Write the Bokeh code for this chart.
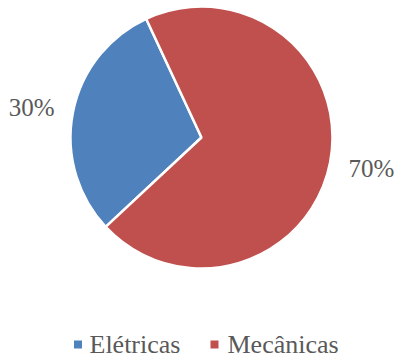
import math
from bokeh.plotting import figure
from bokeh.models import Range1d, ColumnDataSource
from bokeh.embed import file_html
from bokeh.resources import INLINE

categories = ["Elétricas", "Mecânicas"]
shares = [30, 70]
labels = ["30%", "70%"]
colors = ["#4F81BD", "#C0504D"]

W, H = 397, 359
cx, cy, r = 201, H - 137, 131
start_deg = 223  # blue slice ends here, drawn counter-clockwise from red
label_r = 173
label_nudge = [-3, 2]  # small vertical layout nudges (px) to match the original placement

FONT = "Times New Roman"

total = sum(shares)
starts, ends, lx, ly = [], [], [], []
a = start_deg - 360 * shares[0] / total
for s, nd in zip(shares, label_nudge):
    span = 360 * s / total
    s0, s1 = a, a + span
    starts.append(math.radians(s0))
    ends.append(math.radians(s1))
    mid = math.radians((s0 + s1) / 2)
    lx.append(cx + label_r * math.cos(mid))
    ly.append(cy + label_r * math.sin(mid) + nd)
    a = s1

p = figure(width=W, height=H, output_backend="svg", toolbar_location=None,
           x_range=Range1d(0, W), y_range=Range1d(0, H), min_border=0)
p.axis.visible = False
p.grid.visible = False
p.outline_line_color = None
p.background_fill_color = "white"

src = ColumnDataSource(dict(start=starts, end=ends, color=colors,
                            lx=lx, ly=ly, label=labels, font=[FONT] * len(labels)))
p.wedge(x=cx, y=cy, radius=r, start_angle="start", end_angle="end",
        fill_color="color", line_color="white", line_width=2.5, source=src)
p.text(x="lx", y="ly", text="label", source=src, text_align="center",
       text_baseline="middle", text_font="font",
       text_font_size="25px", text_color="#595959")

# legend
leg_sq_x = [77.5, 214]
leg_tx = [89, 227]
leg_y = [H - 344, H - 344]
lsrc = ColumnDataSource(dict(sx=leg_sq_x, tx=leg_tx, y=leg_y, name=categories,
                             color=colors, font=[FONT] * len(categories)))
p.scatter(x="sx", y="y", marker="square", size=8, fill_color="color", line_color=None, source=lsrc)
p.text(x="tx", y="y", text="name", source=lsrc, text_align="left", text_baseline="middle",
       text_font="font", text_font_size="26px", text_color="#595959")

open("out.html", "w").write(file_html(p, INLINE))
